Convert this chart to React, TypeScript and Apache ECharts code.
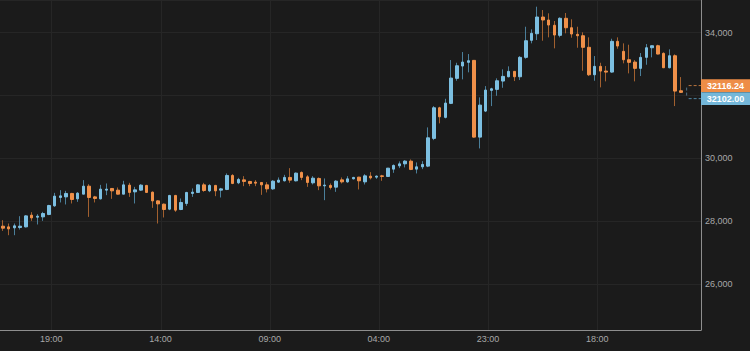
import React, { useEffect, useRef } from 'react';
import * as echarts from 'echarts';

const firstHour = 11;
const slotCount = 122;
const categories: string[] = Array.from({ length: slotCount }, (_, i) => `${String((firstHour + i) % 24).padStart(2, '0')}:00`);

const opens = [
  27840, 27818, 27787, 27798, 27818, 28190, 28126, 28136, 28212, 28487,
  28754, 28773, 28882, 28710, 28859, 29114, 28773, 28710, 28987, 29041,
  28987, 28859, 29147, 28933, 28987, 29137, 28923, 28646, 28541, 28381,
  28818, 28371, 28563, 28882, 28914, 29156, 28965, 29137, 28987, 29009,
  29455, 29220, 29315, 29264, 29242, 29232, 29156, 29028, 29242, 29284,
  29392, 29284, 29551, 29411, 29220, 29360, 29124, 29137, 29082, 29315,
  29251, 29347, 29401, 29251, 29433, 29401, 29443, 29423, 29656, 29761,
  29825, 29911, 29656, 29730, 29752, 30635, 31610, 31304, 31750, 32547,
  32939, 33057, 33120, 30676, 31505, 32164, 32196, 32461, 32598, 32770,
  32598, 33216, 33758, 33968, 34500, 34405, 34236, 33917, 34459, 34159,
  33949, 33904, 33535, 32661, 32929, 32779, 32747, 33726, 33407, 33140,
  33066, 32865, 33216, 33522, 33586, 33343, 32885, 33267, 32152,
];
const closes = [
  27776, 27754, 27851, 27840, 28168, 28104, 28158, 28244, 28499, 28796,
  28805, 28882, 28690, 28891, 29114, 28754, 28722, 29019, 29019, 28965,
  28859, 29156, 28914, 28997, 29147, 28914, 28646, 28550, 28371, 28818,
  28350, 28595, 28914, 28923, 29156, 28977, 29137, 28965, 29028, 29455,
  29200, 29328, 29264, 29200, 29210, 29156, 29028, 29274, 29306, 29392,
  29306, 29529, 29392, 29232, 29369, 29124, 29147, 29073, 29274, 29251,
  29347, 29392, 29284, 29443, 29379, 29433, 29423, 29688, 29774, 29825,
  29911, 29647, 29730, 29806, 30654, 31610, 31323, 31760, 32556, 32948,
  33066, 33108, 30676, 31696, 32174, 32215, 32470, 32610, 32770, 32598,
  33216, 33745, 33981, 34500, 34405, 34245, 33927, 34459, 34159, 33959,
  33904, 33535, 32661, 32929, 32779, 32747, 33726, 33576, 33140, 33057,
  32865, 33216, 33522, 33586, 33321, 32885, 33267, 32142, 32101,
];
const lows = [
  27690, 27553, 27553, 27734, 27798, 28009, 27894, 28009, 28190, 28455,
  28595, 28531, 28563, 28614, 28859, 28136, 28595, 28690, 28828, 28710,
  28850, 28859, 28773, 28563, 28965, 28901, 28423, 27925, 28117, 28350,
  28296, 28350, 28487, 28773, 28901, 28933, 28923, 28796, 28754, 28987,
  29178, 29178, 29114, 29114, 29114, 28837, 28914, 28997, 29220, 29264,
  29220, 29264, 29306, 29092, 29168, 28987, 28668, 29009, 28933, 29200,
  29220, 29328, 29009, 29168, 29328, 29347, 29284, 29411, 29538, 29688,
  29710, 29625, 29519, 29656, 29720, 30580, 31113, 31272, 31728, 32470,
  32515, 32738, 30660, 30316, 31473, 31664, 31992, 32247, 32579, 32461,
  32493, 33171, 33662, 33767, 33745, 33853, 33503, 33853, 33981, 33841,
  33522, 32789, 32620, 32470, 32260, 32451, 32725, 33490, 33025, 32706,
  32451, 32620, 32980, 33216, 33312, 32875, 32865, 31664, 32088,
];
const highs = [
  28031, 27925, 27925, 28158, 28190, 28286, 28222, 28296, 28519, 28901,
  28987, 28965, 28901, 28923, 29306, 29178, 28805, 29156, 29200, 29041,
  29073, 29284, 29220, 29092, 29178, 29156, 28944, 28668, 28563, 28837,
  28837, 28722, 28933, 29041, 29178, 29220, 29178, 29156, 29060, 29519,
  29497, 29379, 29433, 29284, 29306, 29242, 29242, 29306, 29392, 29475,
  29688, 29551, 29583, 29465, 29433, 29392, 29360, 29200, 29306, 29392,
  29433, 29411, 29411, 29497, 29561, 29455, 29475, 29688, 29806, 29902,
  29943, 29965, 29870, 29911, 30985, 31664, 31642, 31897, 33130, 33044,
  33385, 33321, 33130, 31941, 32301, 32247, 32547, 32834, 32929, 32770,
  33257, 34191, 34108, 34829, 34723, 34618, 34373, 34491, 34628, 34427,
  34191, 34013, 33853, 33257, 33044, 32939, 33809, 33853, 33662, 33618,
  33130, 33353, 33640, 33586, 33618, 33375, 33471, 33312, 32588,
];

const lastPrice = 32116.24;
const bidPrice = 32102.0;
const markerIndex = 119;

const yMin = 24534;
const yMax = 35042;
const labelEvery = 19;
const labelFirst = 8;

const BG = '#1b1b1b';
const UP = '#7cbfe1';
const DOWN = '#ef9049';
const UP_WICK = '#4b7f9a';
const DOWN_WICK = '#a2602f';
const GRID = '#262626';
const AXIS = '#8e8e8e';
const TEXT = '#a8a8a8';
const FONT = '"Liberation Sans", Arial, Helvetica, sans-serif';

export default function App() {
  const ref = useRef<HTMLDivElement>(null);

  useEffect(() => {
    if (!ref.current) return;
    const chart = echarts.init(ref.current, undefined, { renderer: 'svg' });

    const wickData = opens.map((o, i) => [o, closes[i], lows[i], highs[i]]);
    const bodyData = opens.map((o, i) => [o, closes[i], Math.min(o, closes[i]), Math.max(o, closes[i])]);

    const option: any = {
      animation: false,
      backgroundColor: BG,
      grid: { left: 0, right: 49, top: 0, bottom: 21 },
      xAxis: {
        type: 'category',
        data: categories,
        boundaryGap: true,
        axisLine: { show: true, lineStyle: { color: AXIS, width: 1 } },
        axisTick: { show: false },
        axisLabel: {
          interval: (i: number) => i % labelEvery === labelFirst,
          color: TEXT,
          fontSize: 9,
          fontFamily: FONT,
          margin: 4,
          padding: [0, 0, 0, 5],
        },
        splitLine: {
          show: true,
          interval: (i: number) => i % labelEvery === labelFirst + 1,
          lineStyle: { color: GRID, width: 1 },
        },
      },
      yAxis: {
        type: 'value',
        position: 'right',
        min: yMin,
        max: yMax,
        splitNumber: 5,
        axisLine: { show: true, lineStyle: { color: AXIS, width: 1 } },
        axisTick: { show: false },
        axisLabel: {
          color: TEXT,
          fontSize: 9,
          fontFamily: FONT,
          margin: 4,
          showMinLabel: false,
          showMaxLabel: false,
          // the price tags cover the tick label that sits under them
          formatter: (v: number) => (Math.abs(v - lastPrice) < 500 ? '' : v.toLocaleString('en-US')),
        },
        splitLine: { show: true, lineStyle: { color: GRID, width: 1 } },
      },
      series: [
        {
          type: 'candlestick',
          name: 'wicks',
          data: wickData,
          barWidth: 1,
          itemStyle: {
            color: UP_WICK,
            color0: DOWN_WICK,
            borderColor: UP_WICK,
            borderColor0: DOWN_WICK,
            borderWidth: 1,
          },
        },
        {
          type: 'candlestick',
          name: 'bodies',
          data: bodyData,
          barWidth: 3,
          itemStyle: {
            color: UP,
            color0: DOWN,
            borderColor: UP,
            borderColor0: DOWN,
            borderWidth: 1,
          },
        },
        {
          type: 'custom',
          name: 'marker',
          clip: false,
          z: 10,
          data: [[markerIndex, lastPrice, bidPrice]],
          renderItem: (params: any, api: any) => {
            const cs = params.coordSys;
            const right = cs.x + cs.width;
            const p1 = api.coord([api.value(0), api.value(1)]);
            const p2 = api.coord([api.value(0), api.value(2)]);
            const x = p1[0];
            const half = 6.3;
            const yTop = p1[1] - half;
            const yBot = p2[1] + half;
            const dash = { lineDash: [3, 2], lineWidth: 1 };
            const boxW = 49;
            return {
              type: 'group',
              children: [
                { type: 'line', shape: { x1: x + 2, y1: yTop, x2: right, y2: yTop }, style: { stroke: '#b8743d', ...dash } },
                { type: 'line', shape: { x1: x + 2, y1: yBot, x2: right, y2: yBot }, style: { stroke: '#4f86a3', ...dash } },
                { type: 'line', shape: { x1: x, y1: yTop + 2, x2: x, y2: yBot - 2 }, style: { stroke: '#4f7388', ...dash } },
                { type: 'rect', shape: { x: right, y: yTop - half, width: boxW, height: half * 2 }, style: { fill: '#ee8d47' } },
                { type: 'rect', shape: { x: right, y: yBot - half, width: boxW, height: half * 2 }, style: { fill: '#74b7d9' } },
                {
                  type: 'text',
                  x: right + boxW / 2,
                  y: yTop,
                  style: { text: Number(api.value(1)).toFixed(2), fill: '#ffffff', font: `bold 9px ${FONT}`, align: 'center', verticalAlign: 'middle' },
                },
                {
                  type: 'text',
                  x: right + boxW / 2,
                  y: yBot,
                  style: { text: Number(api.value(2)).toFixed(2), fill: '#ffffff', font: `bold 9px ${FONT}`, align: 'center', verticalAlign: 'middle' },
                },
              ],
            };
          },
        },
      ],
    };

    chart.setOption(option);
    return () => chart.dispose();
  }, []);

  return (
    <div
      ref={ref}
      style={{ position: 'absolute', left: 0, top: 0, width: 750, height: 351, background: BG }}
    />
  );
}
